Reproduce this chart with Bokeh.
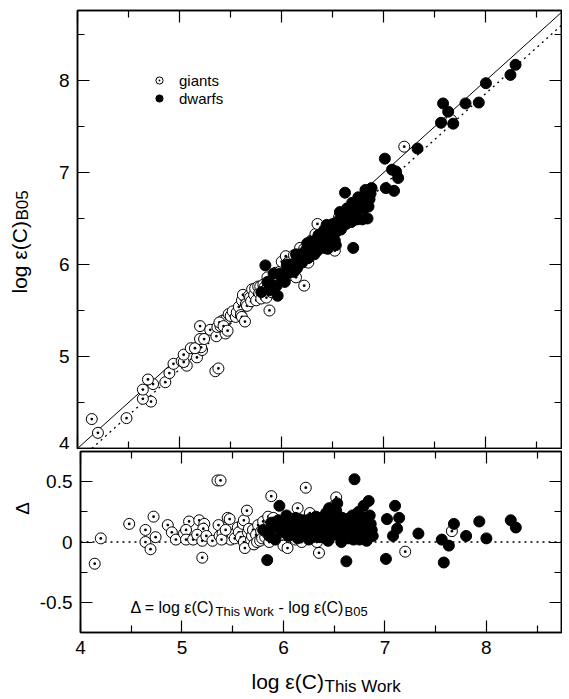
import math
from bokeh.plotting import figure
from bokeh.models import (Range1d, FixedTicker, LinearAxis, Label, Legend, LegendItem,
                          ColumnDataSource)
from bokeh.layouts import column, row
from bokeh.embed import file_html
from bokeh.resources import INLINE

# ---------------- data ----------------
giants_x = [4.14, 4.20, 4.48, 4.72, 4.64, 4.64, 4.74, 4.69, 4.86, 4.90, 4.94, 5.02, 5.07, 5.04,
            5.04, 5.11, 5.17, 5.22, 5.21, 5.15, 5.20, 5.20, 5.24, 5.30, 5.36, 5.35, 5.38, 5.45,
            5.37, 5.40, 5.42, 5.44, 5.46, 5.48, 5.50, 5.39, 5.43, 5.47, 5.52, 5.55, 5.56, 5.58,
            5.60, 5.61, 5.61, 5.62, 5.64, 5.65, 5.66, 5.68, 5.69, 5.70, 5.71, 5.73, 5.74, 5.75,
            5.77, 5.78, 5.79, 5.80, 5.82, 5.83, 5.84, 5.85, 5.86, 5.88, 5.88, 5.90, 5.92, 5.94,
            5.96, 5.98, 6.00, 6.02, 6.04, 6.05, 6.06, 6.08, 6.10, 6.12, 6.14, 6.15, 6.17, 6.18,
            6.20, 6.22, 6.22, 6.24, 6.26, 6.27, 6.29, 6.30, 6.32, 6.33, 6.35, 6.36, 6.38, 6.40,
            6.42, 6.44, 6.47, 6.50, 6.52, 6.56, 6.60, 6.66, 6.72, 7.20, 7.66]
giants_delta = [-0.18, 0.03, 0.15, 0.21, 0.10, 0.00, 0.04, -0.06, 0.14, 0.08, 0.02, 0.07, 0.17, 0.10,
                0.02, 0.02, 0.18, 0.15, 0.11, 0.06, 0.01, -0.13, 0.05, 0.01, 0.14, 0.51, 0.51, 0.20,
                0.05, 0.07, 0.03, 0.08, 0.05, 0.02, 0.06, 0.02, 0.10, 0.19, 0.03, 0.12, 0.08, 0.04,
                0.15, 0.18, 0.00, -0.05, 0.26, 0.08, 0.11, 0.02, 0.05, 0.10, -0.02, 0.06, 0.00, 0.14,
                0.01, 0.09, 0.03, 0.17, 0.04, 0.08, 0.12, 0.21, 0.00, 0.38, 0.07, 0.20, 0.10, 0.03,
                0.14, 0.06, -0.03, 0.11, -0.05, 0.18, 0.04, 0.09, 0.13, 0.02, 0.28, 0.07, 0.16, 0.00,
                0.10, 0.45, 0.05, 0.13, 0.24, 0.08, 0.03, 0.17, 0.11, 0.00, -0.09, 0.06, 0.19, 0.10,
                0.04, 0.14, 0.08, 0.30, 0.37, 0.05, 0.18, 0.15, 0.23, -0.08, 0.09]

dwarfs_x = [5.80, 5.84, 5.86, 5.88, 5.90, 5.92, 5.95, 5.96, 5.98, 6.00, 6.01, 6.03, 6.05, 6.06,
            6.07, 6.10, 6.11, 6.12, 6.14, 6.15, 6.16, 6.18, 6.20, 6.22, 6.23, 6.24, 6.25, 6.26,
            6.27, 6.28, 6.29, 6.30, 6.31, 6.32, 6.33, 6.34, 6.35, 6.36, 6.37, 6.38, 6.39, 6.40,
            6.41, 6.42, 6.43, 6.44, 6.45, 6.46, 6.47, 6.48, 6.49, 6.50, 6.51, 6.52, 6.53, 6.54,
            6.55, 6.56, 6.57, 6.58, 6.59, 6.60, 6.61, 6.62, 6.62, 6.63, 6.64, 6.65, 6.66, 6.67,
            6.68, 6.69, 6.70, 6.70, 6.71, 6.72, 6.73, 6.74, 6.75, 6.76, 6.77, 6.78, 6.79, 6.80,
            6.81, 6.82, 6.83, 6.84, 6.85, 6.86, 6.87, 6.88, 7.01, 7.02, 7.08, 7.10, 7.12, 7.14,
            7.33, 7.56, 7.58, 7.63, 7.68, 7.80, 7.93, 8.00, 8.24, 8.29]
dwarfs_delta = [0.10, -0.15, 0.05, 0.16, 0.12, 0.02, 0.18, 0.30, 0.08, 0.14, 0.17, 0.22, 0.05, 0.12,
                0.16, 0.10, 0.15, 0.20, 0.03, 0.19, 0.13, 0.07, 0.18, 0.14, 0.11, 0.08, 0.02, 0.19,
                0.15, 0.11, 0.04, 0.08, 0.14, 0.21, 0.07, 0.12, 0.20, 0.04, 0.11, 0.17, 0.14, 0.09,
                0.05, 0.24, 0.16, 0.01, 0.28, 0.13, 0.09, 0.19, 0.22, 0.06, 0.15, 0.26, 0.32, 0.18,
                0.11, 0.08, 0.00, 0.20, 0.13, 0.08, 0.04, -0.16, 0.15, 0.19, 0.03, 0.09, 0.12, 0.14,
                0.22, 0.02, 0.52, 0.06, 0.11, 0.18, 0.08, 0.25, 0.02, 0.15, 0.10, 0.06, 0.30, 0.14,
                0.20, 0.01, 0.09, 0.34, 0.22, 0.15, 0.10, 0.05, -0.14, 0.19, 0.05, 0.30, 0.11, 0.20,
                0.07, 0.02, -0.17, -0.03, 0.15, 0.05, 0.17, 0.03, 0.18, 0.12]

# B05 value = this work - delta (definition of delta)
giants_b05 = [x - d for x, d in zip(giants_x, giants_delta)]
dwarfs_b05 = [x - d for x, d in zip(dwarfs_x, dwarfs_delta)]

one_to_one_x = [4.0, 8.75]
one_to_one_y = [4.0, 8.75]
fit_x = [4.14, 8.75]
fit_y = [4.0, 8.61]
zero_x = [4.0, 8.75]
zero_y = [0.0, 0.0]

x_ticks = [4, 5, 6, 7, 8]
x_minor = [4.5, 5.5, 6.5, 7.5, 8.5]
top_y_ticks = [4, 5, 6, 7, 8]
top_y_minor = [4.5, 5.5, 6.5, 7.5, 8.5]
bot_y_ticks = [-0.5, 0, 0.5]
bot_y_minor = [-0.75, -0.25, 0.25, 0.75]
bot_y_labels = {-0.5: "-0.5", 0: "0", 0.5: "0.5"}

FONT = "Liberation Sans"
STRIP_W = 36
STRIP_EXTRA = 6
BORDER_L = 83 - STRIP_W - STRIP_EXTRA
W = 568 - STRIP_W - STRIP_EXTRA


def style_axis(ax, show_labels):
    ax.axis_line_color = "black"
    ax.axis_line_width = 1.5
    ax.major_tick_in = 12
    ax.major_tick_out = 0
    ax.minor_tick_in = 7
    ax.minor_tick_out = 0
    ax.major_tick_line_color = "black"
    ax.minor_tick_line_color = "black"
    ax.major_tick_line_width = 1.2
    ax.minor_tick_line_width = 1.2
    ax.major_label_text_font = FONT
    if show_labels:
        ax.major_label_text_color = "black"
        ax.major_label_text_font_size = "19px"
        ax.major_label_standoff = 8
    else:
        ax.major_label_text_color = None
        ax.major_label_text_font_size = "0px"
        ax.major_label_standoff = 0


def make_fig(height, ymin, ymax, yt, ym, top_b, bot_b, show_x_labels, ylabels=None):
    p = figure(width=W, height=height, x_range=Range1d(4.0, 8.74), y_range=Range1d(ymin, ymax),
               output_backend="svg", toolbar_location=None, min_border_left=BORDER_L,
               min_border_right=1, min_border_top=top_b, min_border_bottom=bot_b)
    p.grid.visible = False
    p.outline_line_color = "black"
    p.outline_line_width = 1.5
    p.xaxis.ticker = FixedTicker(ticks=x_ticks, minor_ticks=x_minor)
    p.yaxis.ticker = FixedTicker(ticks=yt, minor_ticks=ym)
    style_axis(p.xaxis[0], show_x_labels)
    style_axis(p.yaxis[0], True)
    if ylabels:
        p.yaxis[0].major_label_overrides = ylabels
    top_ax = LinearAxis(ticker=FixedTicker(ticks=x_ticks, minor_ticks=x_minor))
    style_axis(top_ax, False)
    p.add_layout(top_ax, "above")
    right_ax = LinearAxis(ticker=FixedTicker(ticks=yt, minor_ticks=ym))
    style_axis(right_ax, False)
    p.add_layout(right_ax, "right")
    return p


def strip(w, h):
    s = figure(width=w, height=h, x_range=Range1d(0, 1), y_range=Range1d(0, 1),
               toolbar_location=None, output_backend="svg", x_axis_location=None,
               y_axis_location=None, min_border=0, min_border_left=0, min_border_right=0,
               min_border_top=0, min_border_bottom=0)
    s.outline_line_color = None
    s.grid.visible = False
    return s


def add_text(p, txt, x, y, size, angle=0.0, align="left", baseline="alphabetic"):
    p.add_layout(Label(x=x, y=y, x_units="screen", y_units="screen", text=txt, angle=angle,
                       text_align=align, text_baseline=baseline, text_font=FONT,
                       text_font_size=size, text_color="black"))


# ---------------- top panel ----------------
p1 = make_fig(449, 4.0, 8.76, top_y_ticks, top_y_minor, 10, 1, False)
p1.line(one_to_one_x, one_to_one_y, line_color="black", line_width=1)
p1.line(fit_x, fit_y, line_color="black", line_width=1.3, line_dash="2 4")
src_gd = ColumnDataSource(dict(x=dwarfs_x, y=dwarfs_b05))
src_gg = ColumnDataSource(dict(x=giants_x, y=giants_b05))
r_g1 = p1.scatter("x", "y", source=src_gg, marker="circle_dot", size=11, fill_color="white",
                  line_color="black", line_width=1)
r_d1 = p1.scatter("x", "y", source=src_gd, marker="circle", size=11, fill_color="black",
                  line_color="black", line_width=1)

legend = Legend(items=[LegendItem(label="giants", renderers=[r_g1]),
                       LegendItem(label="dwarfs", renderers=[r_d1])],
                location=(72, 341), orientation="vertical")
legend.background_fill_alpha = 0
legend.border_line_color = None
legend.padding = 0
legend.margin = 0
legend.spacing = 0
legend.glyph_width = 20
legend.glyph_height = 18
legend.label_height = 18
legend.label_standoff = 10
legend.label_text_font = FONT
legend.label_text_font_size = "15px"
legend.label_text_color = "black"
p1.add_layout(legend, "center")

ylab1 = strip(STRIP_W, 449)
add_text(ylab1, "log ε(C)", 19, 155, "21px", angle=math.pi / 2)
add_text(ylab1, "B05", 22, 228, "17px", angle=math.pi / 2)

# ---------------- bottom panel ----------------
p2 = make_fig(219, -0.75, 0.75, bot_y_ticks, bot_y_minor, 2, 36, True, bot_y_labels)
p2.line(zero_x, zero_y, line_color="black", line_width=1.3, line_dash="2 4")
p2.scatter(giants_x, giants_delta, marker="circle_dot", size=11, fill_color="white",
           line_color="black", line_width=1)
p2.scatter(dwarfs_x, dwarfs_delta, marker="circle", size=11, fill_color="black",
           line_color="black", line_width=1)

# equation inside panel
add_text(p2, "Δ = log ε(C)", 50, 25, "16px")
add_text(p2, "This Work", 135, 21, "13px")
add_text(p2, "- log ε(C)", 198, 25, "16px")
add_text(p2, "B05", 264, 21, "13px")

ylab2 = strip(STRIP_W, 219)
add_text(ylab2, "Δ", 22, 124, "19px", angle=math.pi / 2, align="center", baseline="middle")

# x axis title strip
xlab = strip(568, 30)
add_text(xlab, "log ε(C)", 251, 17, "21px")
add_text(xlab, "This Work", 324, 12, "17px")

layout = column(row(ylab1, p1, spacing=0), row(ylab2, p2, spacing=0), xlab, spacing=0)
open("out.html", "w").write(file_html(layout, INLINE))
